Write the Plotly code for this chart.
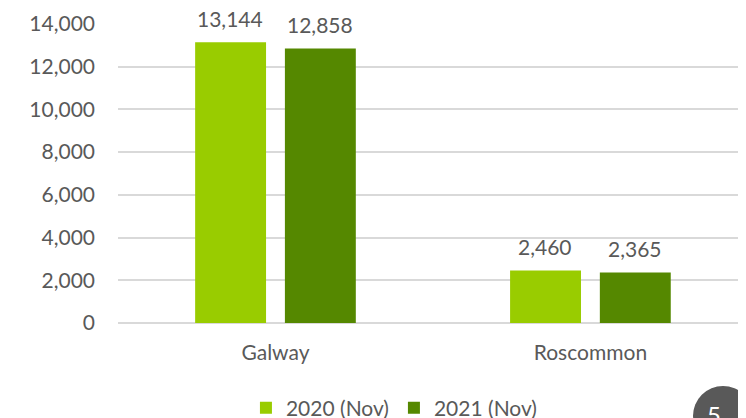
import plotly.graph_objects as go

categories = ["Galway", "Roscommon"]
series_names = ["2020 (Nov)", "2021 (Nov)"]
values_2020 = [13144, 2460]
values_2021 = [12858, 2365]
colors = ["#99CC00", "#558800"]
y_ticks = [0, 2000, 4000, 6000, 8000, 10000, 12000, 14000]
y_tick_labels = ["0", "2,000", "4,000", "6,000", "8,000", "10,000", "12,000", "14,000"]

FONT = "Lato"
GRAY = "#595959"
FS = 21

fig = go.Figure()
for name, vals, col in zip(series_names, [values_2020, values_2021], colors):
    fig.add_trace(go.Bar(
        x=categories, y=vals, name=name, marker_color=col,
        marker_line_width=0,
    ))

# data labels above bars
for vals, shift in zip([values_2020, values_2021], [-45, 45]):
    for c, v in zip(categories, vals):
        fig.add_annotation(x=c, y=v, text=f"{v:,}", showarrow=False,
                           xshift=shift, yshift=9, yanchor="bottom",
                           font=dict(family=FONT, size=FS, color=GRAY))

# the page body adds an 8px offset, so the figure is laid out 8px up/left
fig.update_layout(
    width=746, height=418,
    margin=dict(l=110, r=8, t=16, b=103, autoexpand=False),
    paper_bgcolor="white", plot_bgcolor="white",
    barmode="group", bargap=0.43, bargroupgap=0.21,
    font=dict(family=FONT, size=FS, color=GRAY),
    showlegend=True,
    legend=dict(orientation="h", x=0.4394, xanchor="center", y=-0.285, yanchor="middle",
                font=dict(family=FONT, size=FS, color=GRAY), itemwidth=30,
                traceorder="normal"),
    xaxis=dict(range=[-0.5, 1.494], showgrid=False, showline=False, ticks="",
               automargin=False,
               tickfont=dict(family=FONT, size=FS, color=GRAY), ticklabelstandoff=15),
    yaxis=dict(range=[0, 14000], tickvals=y_ticks, ticktext=y_tick_labels,
               showgrid=True, gridcolor="#D9D9D9", gridwidth=2,
               zeroline=True, zerolinecolor="#D9D9D9", zerolinewidth=2,
               showline=False, ticks="", ticklabelstandoff=22, automargin=False,
               tickfont=dict(family=FONT, size=FS, color=GRAY)),
)

# page number badge
fig.add_shape(type="circle", xref="paper", yref="paper", xsizemode="pixel", ysizemode="pixel",
              xanchor=(723 - 118) / 628, yanchor=(323 - 416) / 299,
              x0=-30, x1=30, y0=-30, y1=30,
              fillcolor="#595959", line_width=0, layer="above")
fig.add_annotation(text="5", xref="paper", yref="paper",
                   x=(723 - 118) / 628, y=(323 - 431) / 299, showarrow=False,
                   font=dict(family=FONT, size=24, color="white"))

fig.write_html("out.html")
